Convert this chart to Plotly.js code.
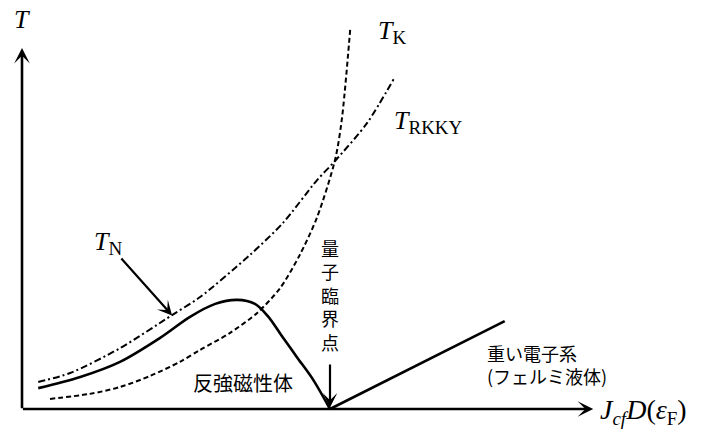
<!DOCTYPE html>
<html>
<head>
<meta charset="utf-8">
<script src="https://cdn.plot.ly/plotly-3.0.1.min.js"></script>
<style>
  html, body { margin: 0; padding: 0; background: #fff; }
  #chart { width: 705px; height: 437px; }
</style>
</head>
<body>
<div id="chart"></div>
<script>
// Doniach phase diagram: coupling J_cf D(eF) on x, temperature T on y (schematic units)

// RKKY interaction temperature (dash-dot)
const rkkyX = [0.29, 0.86, 1.75, 2.68, 3.18, 4.07, 4.66, 5.27, 5.59, 6.16, 6.64];
const rkkyY = [0.75, 1.00, 1.69, 2.61, 3.11, 4.28, 5.17, 6.36, 6.89, 7.94, 9.17];

// Kondo temperature (dashed)
const kondoX = [0.50, 1.21, 1.75, 2.29, 2.82, 3.18, 3.71, 4.20, 4.61, 4.96, 5.27, 5.59, 5.71, 5.86];
const kondoY = [0.28, 0.42, 0.61, 0.92, 1.31, 1.64, 2.11, 2.67, 3.36, 4.28, 5.33, 6.92, 8.03, 10.53];

// Neel temperature (solid), vanishing at the quantum critical point
const neelX = [0.29, 1.04, 1.75, 2.46, 3.00, 3.45, 3.84, 4.16, 4.39, 4.64, 4.91, 5.20, 5.50];
const neelY = [0.58, 0.89, 1.31, 1.97, 2.56, 2.92, 3.03, 2.92, 2.58, 2.03, 1.44, 0.81, 0.00];

// Fermi-liquid crossover line on the heavy-fermion side
const fermiX = [5.50, 8.62];
const fermiY = [0.00, 2.44];

// Axis extents (origin, arrow tips)
const axisXMax = 10.20;
const axisYMax = 10.03;
const qcpX = 5.50;

const serif = 'Liberation Serif, DejaVu Serif, serif';
const jp = 'Noto Sans CJK JP, sans-serif';

const traces = [
  {
    x: rkkyX, y: rkkyY, mode: 'lines', type: 'scatter',
    line: { color: '#000', width: 2, dash: '7px,3px,2px,3px', shape: 'spline', smoothing: 0.8 },
    hoverinfo: 'skip'
  },
  {
    x: kondoX, y: kondoY, mode: 'lines', type: 'scatter',
    line: { color: '#000', width: 2, dash: '5px,3px', shape: 'spline', smoothing: 0.8 },
    hoverinfo: 'skip'
  },
  {
    x: neelX, y: neelY, mode: 'lines', type: 'scatter',
    line: { color: '#000', width: 2.6, shape: 'spline', smoothing: 0.9 },
    hoverinfo: 'skip'
  },
  {
    x: fermiX, y: fermiY, mode: 'lines', type: 'scatter',
    line: { color: '#000', width: 2.6 },
    hoverinfo: 'skip'
  }
];

function arrow(tipX, tipY, tailX, tailY, width, size) {
  return {
    x: tipX, y: tipY, ax: tailX, ay: tailY,
    xref: 'x', yref: 'y', axref: 'x', ayref: 'y',
    text: '', showarrow: true,
    arrowhead: 3, arrowsize: size, arrowwidth: width, arrowcolor: '#000'
  };
}

// larger subscripts, as in typeset symbols
const sub = (s) => '<sub><span style="font-size:19px">' + s + '</span></sub>';

const annotations = [
  // axes
  arrow(axisXMax, 0, -0.01, 0, 2.6, 1.0),
  arrow(0, axisYMax, 0, -0.02, 2.6, 1.0),
  // T_N pointer
  arrow(2.68, 2.60, 1.75, 4.22, 2.2, 1.1),
  // quantum critical point pointer
  arrow(qcpX, 0.04, qcpX, 1.28, 2.2, 1.1),

  { x: 0, y: 10.83, xref: 'x', yref: 'y', text: '<i>T</i>', showarrow: false,
    font: { family: serif, size: 26, color: '#000' }, xanchor: 'center', yanchor: 'middle' },
  { x: 6.33, y: 10.48, xref: 'x', yref: 'y', text: '<i>T</i>' + sub('K'), showarrow: false,
    font: { family: serif, size: 26, color: '#000' }, xanchor: 'left', yanchor: 'middle' },
  { x: 6.60, y: 7.98, xref: 'x', yref: 'y', text: '<i>T</i>' + sub('RKKY'), showarrow: false,
    font: { family: serif, size: 26, color: '#000' }, xanchor: 'left', yanchor: 'middle' },
  { x: 1.25, y: 4.62, xref: 'x', yref: 'y', text: '<i>T</i>' + sub('N'), showarrow: false,
    font: { family: serif, size: 26, color: '#000' }, xanchor: 'left', yanchor: 'middle' },
  { x: 10.28, y: -0.08, xref: 'x', yref: 'y',
    text: '<i>J</i>' + sub('<i>cf</i>') + '<i>D</i>(<i>ε</i>' + sub('F') + ')', showarrow: false,
    font: { family: serif, size: 28, color: '#000' }, xanchor: 'left', yanchor: 'middle' },

  { x: qcpX, y: 3.18, xref: 'x', yref: 'y', text: '量<br>子<br>臨<br>界<br>点', showarrow: false,
    font: { family: jp, size: 18, color: '#000' }, xanchor: 'center', yanchor: 'middle' },
  { x: 3.95, y: 0.75, xref: 'x', yref: 'y', text: '反強磁性体', showarrow: false,
    font: { family: jp, size: 20, color: '#000' }, xanchor: 'center', yanchor: 'middle' },
  { x: 8.26, y: 1.25, xref: 'x', yref: 'y', text: '重い電子系<br>(フェルミ液体)', showarrow: false,
    font: { family: jp, size: 18, color: '#000' }, xanchor: 'left', yanchor: 'middle', align: 'left' }
];

const layout = {
  width: 705, height: 437,
  margin: { l: 0, r: 0, t: 0, b: 0, pad: 0 },
  paper_bgcolor: '#fff', plot_bgcolor: '#fff',
  showlegend: false,
  xaxis: { range: [-22 / 56, 683 / 56], visible: false, fixedrange: true },
  yaxis: { range: [-28 / 36, 409 / 36], visible: false, fixedrange: true },
  annotations: annotations
};

Plotly.newPlot('chart', traces, layout, { staticPlot: true, displayModeBar: false });
</script>
</body>
</html>
